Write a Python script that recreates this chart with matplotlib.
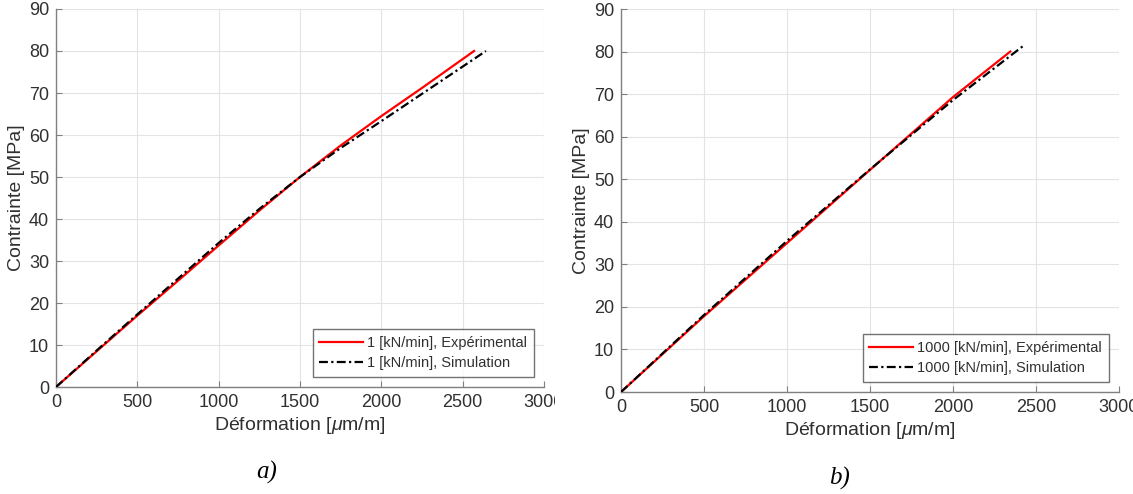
import matplotlib
matplotlib.use("Agg")
import matplotlib.pyplot as plt
from matplotlib.patches import Rectangle

# ---- data ----
strain_a_exp = [0, 250, 500, 750, 1000, 1250, 1500, 1750, 2000, 2250, 2570]
stress_a_exp = [0, 8.5, 17.0, 25.3, 33.7, 42.0, 50.0, 57.5, 64.5, 71.2, 80.0]
strain_a_sim = [0, 250, 500, 750, 1000, 1250, 1500, 1750, 2000, 2250, 2643]
stress_a_sim = [0, 8.7, 17.3, 25.8, 34.3, 42.4, 50.0, 56.9, 63.3, 69.8, 80.0]

strain_b_exp = [0, 500, 1000, 1500, 2000, 2345]
stress_b_exp = [0, 17.8, 35.0, 52.2, 69.3, 80.0]
strain_b_sim = [0, 500, 1000, 1500, 2000, 2432]
stress_b_sim = [0, 18.1, 35.5, 52.3, 68.6, 81.6]

labels_a = ["1 [kN/min], Expérimental", "1 [kN/min], Simulation"]
labels_b = ["1000 [kN/min], Expérimental", "1000 [kN/min], Simulation"]
xticks = [0, 500, 1000, 1500, 2000, 2500, 3000]
yticks = [0, 10, 20, 30, 40, 50, 60, 70, 80, 90]

plt.rcParams['font.family'] = ['Liberation Sans', 'DejaVu Sans']
plt.rcParams['mathtext.fontset'] = 'custom'
plt.rcParams['mathtext.it'] = 'Liberation Sans:italic'
plt.rcParams['mathtext.rm'] = 'Liberation Sans'

W, H = 1133, 494
fig = plt.figure(figsize=(W / 100, H / 100), dpi=100)

txt = '#303030'

def setup(ax, sx_e, sy_e, sx_s, sy_s, labels):
    ax.plot(sx_e, sy_e, color='#ff0000', lw=1.6, label=labels[0], zorder=3)
    ax.plot(sx_s, sy_s, color='black', lw=1.6, ls=(0, (4, 1.5, 1, 1.5)), label=labels[1], zorder=4)
    ax.set_xlim(0, 3000)
    ax.set_ylim(0, 90)
    ax.set_xticks(xticks)
    ax.set_yticks(yticks)
    ax.grid(True, color='#e3e3e3', lw=0.8)
    ax.set_axisbelow(True)
    for s in ['top', 'right']:
        ax.spines[s].set_visible(False)
    for s in ['left', 'bottom']:
        ax.spines[s].set_color('#808080')
        ax.spines[s].set_linewidth(1.0)
    ax.tick_params(direction='in', length=4, color='#808080', labelsize=13, labelcolor=txt, pad=5)
    ax.set_xlabel('Déformation [$\\mu$m/m]', fontsize=14, color=txt, labelpad=3)
    ax.set_ylabel('Contrainte [MPa]', fontsize=14, color=txt, labelpad=3)
    leg = ax.legend(loc='lower right', fontsize=10.5, frameon=True, fancybox=False,
                    edgecolor='#505050', handlelength=3.0, handletextpad=0.3,
                    borderaxespad=0.7, labelspacing=0.45, borderpad=0.45)
    leg.get_frame().set_linewidth(1.0)
    for t in leg.get_texts():
        t.set_color(txt)

axA = fig.add_axes([56 / W, 1 - 387 / H, 488 / W, 378 / H])
setup(axA, strain_a_exp, stress_a_exp, strain_a_sim, stress_a_sim, labels_a)
axB = fig.add_axes([621 / W, 1 - 392 / H, 498 / W, 383 / H])
setup(axB, strain_b_exp, stress_b_exp, strain_b_sim, stress_b_sim, labels_b)

# clipping of the two original images
fig.add_artist(Rectangle((555 / W, 0), 15 / W, 1, transform=fig.transFigure,
                         facecolor='white', edgecolor='none', zorder=10))

fig.text(267 / W, 1 - 472 / H, 'a)', fontsize=18, style='italic',
         family='Liberation Serif', ha='center', va='center', color='black')
fig.text(840 / W, 1 - 478 / H, 'b)', fontsize=18, style='italic',
         family='Liberation Serif', ha='center', va='center', color='black')

fig.savefig('out.png', dpi=100, facecolor='white')
